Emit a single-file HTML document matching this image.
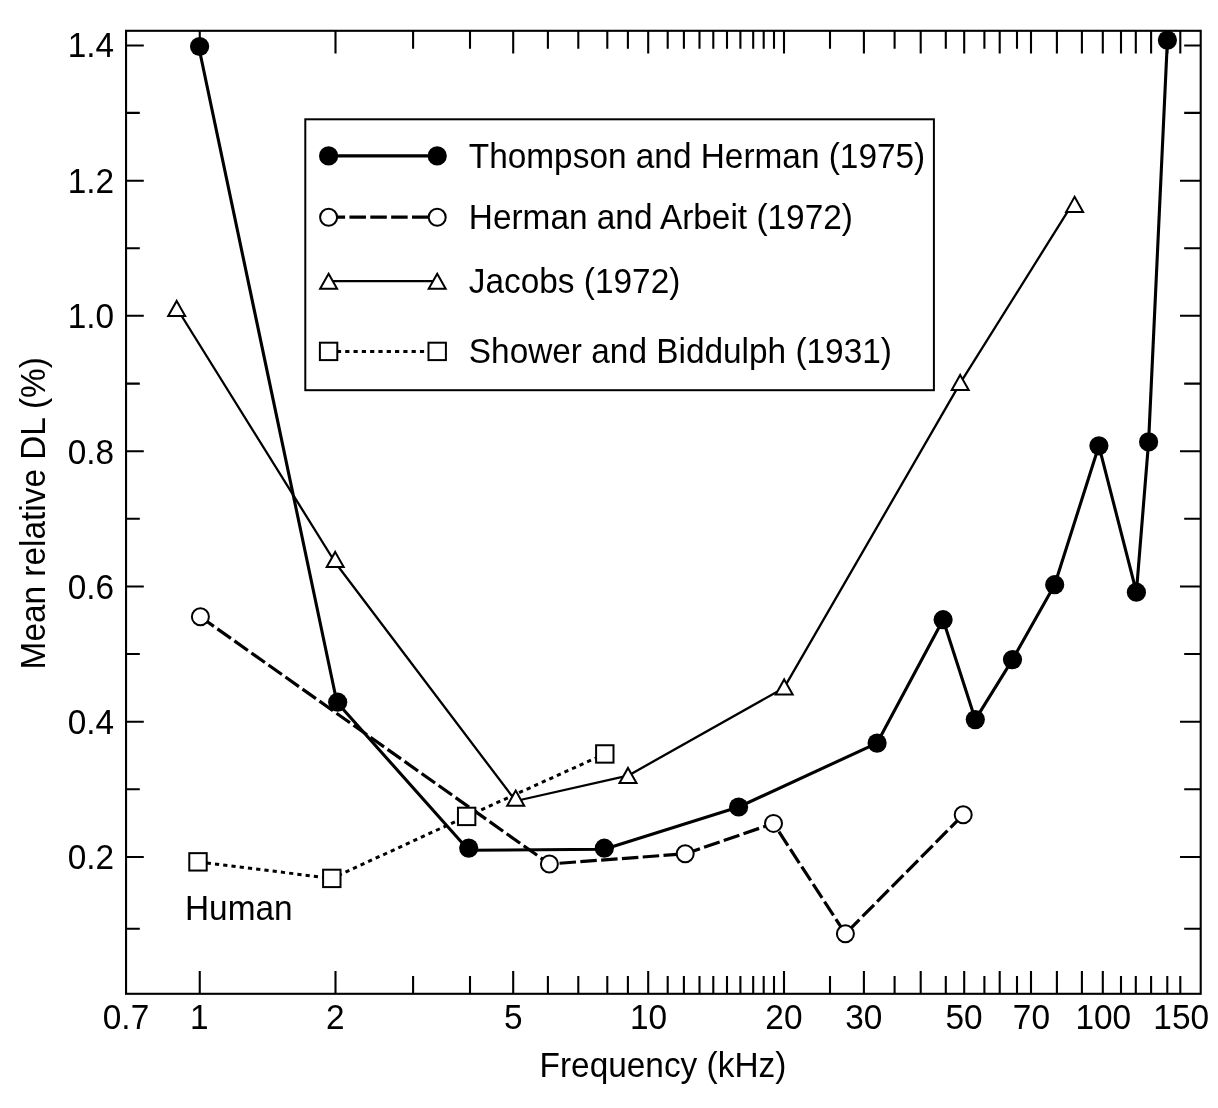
<!DOCTYPE html>
<html><head><meta charset="utf-8"><title>Mean relative DL vs Frequency</title>
<style>html,body{margin:0;padding:0;background:#fff;}body{width:1218px;height:1108px;overflow:hidden;}svg{display:block;}text{font-family:"Liberation Sans",sans-serif;fill:#000;}</style></head><body>
<svg width="1218" height="1108" viewBox="0 0 1218 1108" style="will-change:transform">
<rect x="0" y="0" width="1218" height="1108" fill="#fff"/>
<path d="M199.75,993.80V971.10M199.75,30.80V53.50M335.50,993.80V971.10M335.50,30.80V53.50M413.10,993.80V975.90M413.10,30.80V48.70M470.00,993.80V975.90M470.00,30.80V48.70M513.20,993.80V971.10M513.20,30.80V53.50M547.90,993.80V975.90M547.90,30.80V48.70M578.30,993.80V975.90M578.30,30.80V48.70M607.30,993.80V975.90M607.30,30.80V48.70M627.90,993.80V975.90M627.90,30.80V48.70M648.20,993.80V971.10M648.20,30.80V53.50M667.70,993.80V975.90M667.70,30.80V48.70M683.90,993.80V975.90M683.90,30.80V48.70M699.50,993.80V975.90M699.50,30.80V48.70M713.30,993.80V975.90M713.30,30.80V48.70M727.00,993.80V975.90M727.00,30.80V48.70M740.40,993.80V975.90M740.40,30.80V48.70M753.20,993.80V975.90M753.20,30.80V48.70M763.70,993.80V975.90M763.70,30.80V48.70M774.00,993.80V975.90M774.00,30.80V48.70M784.00,993.80V971.10M784.00,30.80V53.50M830.00,993.80V975.90M830.00,30.80V48.70M863.90,993.80V971.10M863.90,30.80V53.50M894.60,993.80V975.90M894.60,30.80V48.70M920.70,993.80V971.10M920.70,30.80V53.50M945.80,993.80V975.90M945.80,30.80V48.70M964.20,993.80V971.10M964.20,30.80V53.50M984.40,993.80V975.90M984.40,30.80V48.70M999.70,993.80V971.10M999.70,30.80V53.50M1017.00,993.80V975.90M1017.00,30.80V48.70M1031.00,993.80V971.10M1031.00,30.80V53.50M1056.90,993.80V971.10M1056.90,30.80V53.50M1081.90,993.80V971.10M1081.90,30.80V53.50M1102.80,993.80V971.10M1102.80,30.80V53.50M1121.00,993.80V975.90M1121.00,30.80V53.50M1135.80,993.80V975.90M1135.80,30.80V53.50M1151.10,993.80V975.90M1151.10,30.80V53.50M1167.30,993.80V975.90M1167.30,30.80V53.50M1180.30,993.80V975.90M1180.30,30.80V53.50M126.05,45.50H143.80M1200.70,45.50H1184.20M126.05,112.90H139.80M1200.70,112.90H1184.20M126.05,180.70H143.80M1200.70,180.70H1180.00M126.05,248.30H139.80M1200.70,248.30H1184.20M126.05,315.70H143.80M1200.70,315.70H1180.00M126.05,383.60H139.80M1200.70,383.60H1184.20M126.05,451.20H143.80M1200.70,451.20H1180.00M126.05,518.80H139.80M1200.70,518.80H1184.20M126.05,586.50H143.80M1200.70,586.50H1180.00M126.05,654.00H139.80M1200.70,654.00H1184.20M126.05,721.80H143.80M1200.70,721.80H1180.00M126.05,789.30H139.80M1200.70,789.30H1184.20M126.05,857.00H143.80M1200.70,857.00H1180.00M126.05,928.70H139.80M1200.70,928.70H1184.20" fill="none" stroke="#000" stroke-width="2.1"/>
<rect x="126.05" y="30.8" width="1074.65" height="963.00" fill="none" stroke="#000" stroke-width="2.1"/>
<g font-size="33.4" text-anchor="end">
<text transform="translate(114.2,57.10) scale(1,1.035)">1.4</text>
<text transform="translate(114.2,193.00) scale(1,1.035)">1.2</text>
<text transform="translate(114.2,328.00) scale(1,1.035)">1.0</text>
<text transform="translate(114.2,463.50) scale(1,1.035)">0.8</text>
<text transform="translate(114.2,598.80) scale(1,1.035)">0.6</text>
<text transform="translate(114.2,734.10) scale(1,1.035)">0.4</text>
<text transform="translate(114.2,869.30) scale(1,1.035)">0.2</text>
</g>
<g font-size="33.4" text-anchor="middle">
<text transform="translate(126.00,1029.2) scale(1,1.035)">0.7</text>
<text transform="translate(199.40,1029.2) scale(1,1.035)">1</text>
<text transform="translate(335.30,1029.2) scale(1,1.035)">2</text>
<text transform="translate(513.20,1029.2) scale(1,1.035)">5</text>
<text transform="translate(648.60,1029.2) scale(1,1.035)">10</text>
<text transform="translate(783.90,1029.2) scale(1,1.035)">20</text>
<text transform="translate(863.80,1029.2) scale(1,1.035)">30</text>
<text transform="translate(964.00,1029.2) scale(1,1.035)">50</text>
<text transform="translate(1031.40,1029.2) scale(1,1.035)">70</text>
<text transform="translate(1103.30,1029.2) scale(1,1.035)">100</text>
<text transform="translate(1181.20,1029.2) scale(1,1.035)">150</text>
</g>
<text font-size="33.4" transform="translate(539.6,1076.6) scale(1,1.035)">Frequency (kHz)</text>
<text font-size="33.4" transform="translate(45.2,669.4) rotate(-90) scale(1,1.035)">Mean relative DL (%)</text>
<text font-size="33.4" transform="translate(185.0,919.8) scale(1,1.035)">Human</text>
<polyline points="198.00,861.85 331.80,878.40 466.65,816.40 604.80,753.95" fill="none" stroke="#000" stroke-width="3" stroke-dasharray="4.2 4.1" stroke-dashoffset="-0.5"/>
<polyline points="200.40,616.80 549.40,864.00 685.20,853.80 773.50,823.40 845.40,933.70 963.20,814.80" fill="none" stroke="#000" stroke-width="3.2" stroke-dasharray="16.5 4.35"/>
<polyline points="176.70,308.00 335.20,562.50 515.70,801.00 628.00,775.70 784.20,687.70 960.20,383.20 1071.70,205.10" fill="none" stroke="#000" stroke-width="2.3" stroke-linejoin="round"/>
<polyline points="198.70,46.50 336.90,702.20 468.70,850.30 604.20,849.30 738.60,807.00 877.10,743.10 943.10,619.70 975.30,719.60 1012.50,659.60 1054.70,584.70 1098.90,445.80 1136.40,592.20 1148.60,441.90 1167.40,40.10" fill="none" stroke="#000" stroke-width="3.1" stroke-linejoin="round"/>
<g fill="#fff" stroke="#000" stroke-width="2">
<rect x="189.30" y="853.15" width="17.4" height="17.4"/>
<rect x="323.10" y="869.70" width="17.4" height="17.4"/>
<rect x="457.95" y="807.70" width="17.4" height="17.4"/>
<rect x="596.10" y="745.25" width="17.4" height="17.4"/>
<path d="M176.70,300.90 L185.20,316.00 L168.20,316.00 Z"/>
<path d="M335.20,551.90 L343.70,567.00 L326.70,567.00 Z"/>
<path d="M515.70,790.60 L524.20,805.70 L507.20,805.70 Z"/>
<path d="M628.00,767.90 L636.50,783.00 L619.50,783.00 Z"/>
<path d="M784.20,679.40 L792.70,694.50 L775.70,694.50 Z"/>
<path d="M960.20,374.90 L968.70,390.00 L951.70,390.00 Z"/>
<path d="M1074.60,196.80 L1083.10,211.90 L1066.10,211.90 Z"/>
<circle cx="200.40" cy="616.80" r="8.5"/>
<circle cx="549.40" cy="864.00" r="8.5"/>
<circle cx="685.20" cy="853.80" r="8.5"/>
<circle cx="773.50" cy="823.40" r="8.5"/>
<circle cx="845.40" cy="933.70" r="8.5"/>
<circle cx="963.20" cy="814.80" r="8.5"/>
</g>
<g fill="#000">
<circle cx="199.60" cy="46.50" r="9.6"/>
<circle cx="337.70" cy="702.20" r="9.6"/>
<circle cx="468.70" cy="848.10" r="9.6"/>
<circle cx="604.30" cy="848.20" r="9.6"/>
<circle cx="738.60" cy="807.00" r="9.6"/>
<circle cx="877.10" cy="743.10" r="9.6"/>
<circle cx="943.10" cy="619.70" r="9.6"/>
<circle cx="975.30" cy="719.60" r="9.6"/>
<circle cx="1012.50" cy="659.60" r="9.6"/>
<circle cx="1054.70" cy="584.70" r="9.6"/>
<circle cx="1098.90" cy="445.80" r="9.6"/>
<circle cx="1136.40" cy="592.20" r="9.6"/>
<circle cx="1148.60" cy="441.90" r="9.6"/>
<circle cx="1167.40" cy="40.10" r="9.6"/>
</g>
<rect x="305.3" y="119.3" width="628.6" height="270.9" fill="#fff" stroke="#000" stroke-width="2"/>
<line x1="328.6" y1="155.9" x2="437.2" y2="155.9" stroke="#000" stroke-width="3.1"/>
<line x1="328.6" y1="217.2" x2="437.2" y2="217.2" stroke="#000" stroke-width="3.2" stroke-dasharray="16.5 4.35"/>
<line x1="328.6" y1="281.1" x2="437.2" y2="281.1" stroke="#000" stroke-width="2.1"/>
<line x1="328.6" y1="351.4" x2="437.2" y2="351.4" stroke="#000" stroke-width="3" stroke-dasharray="4.2 4.1"/>
<circle cx="328.6" cy="155.9" r="9.6"/><circle cx="437.2" cy="155.9" r="9.6"/>
<g fill="#fff" stroke="#000" stroke-width="2">
<circle cx="328.6" cy="217.2" r="8.5"/><circle cx="437.2" cy="217.2" r="8.5"/>
<path d="M328.60,273.70 L337.10,288.80 L320.10,288.80 Z"/><path d="M437.20,273.70 L445.70,288.80 L428.70,288.80 Z"/>
<rect x="319.90" y="342.70" width="17.4" height="17.4"/><rect x="428.50" y="342.70" width="17.4" height="17.4"/>
</g>
<g font-size="33.4">
<text transform="translate(468.8,167.80) scale(1,1.035)">Thompson and Herman (1975)</text>
<text transform="translate(468.8,228.75) scale(1,1.035)">Herman and Arbeit (1972)</text>
<text transform="translate(468.8,292.80) scale(1,1.035)">Jacobs (1972)</text>
<text transform="translate(468.8,362.80) scale(1,1.035)">Shower and Biddulph (1931)</text>
</g>
</svg></body></html>
